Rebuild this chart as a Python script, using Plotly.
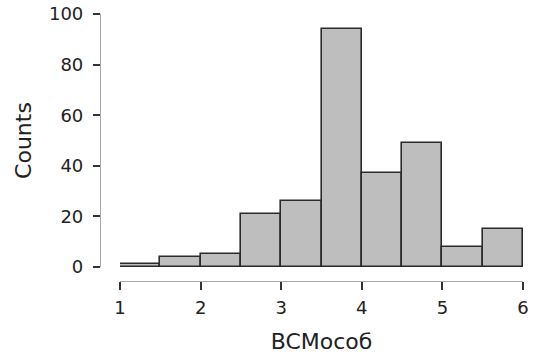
import plotly.graph_objects as go

bin_starts = [1.0, 1.5, 2.0, 2.5, 3.0, 3.5, 4.0, 4.5, 5.0, 5.5]
bin_width = 0.5
counts = [1, 4, 5, 21, 26, 94, 37, 49, 8, 15]
x_ticks = [1, 2, 3, 4, 5, 6]
y_ticks = [0, 20, 40, 60, 80, 100]

centers = [s + bin_width / 2 for s in bin_starts]

fig = go.Figure(go.Bar(
    x=centers, y=counts, width=[bin_width] * len(counts),
    marker=dict(color="#bebebe", line=dict(color="#2b2b2b", width=1.6)),
))

W, H = 539, 356
ml, mr, mt, mb = 100, 16, 14, 75
pw, ph = W - ml - mr, H - mt - mb

font = "DejaVu Sans, Verdana, sans-serif"
fig.update_layout(
    width=W, height=H,
    margin=dict(l=ml, r=mr, t=mt, b=mb, pad=0, autoexpand=False),
    plot_bgcolor="white", paper_bgcolor="white",
    showlegend=False, bargap=0,
    font=dict(family=font, color="#222"),
    xaxis=dict(
        domain=[20 / pw, 1], range=[1, 6], anchor="free", position=0, automargin=False,
        tickvals=x_ticks, ticks="outside", ticklen=8, tickwidth=1.5, tickcolor="#333",
        showline=True, linecolor="#aaaaaa", linewidth=1.2, showgrid=False, zeroline=False,
        tickfont=dict(size=18, family=font, color="#222"), ticklabelstandoff=2,
        title=dict(text="BCMocoб", font=dict(size=22, family=font, color="#222"), standoff=16),
    ),
    yaxis=dict(
        domain=[14 / ph, 1], range=[0, 100], anchor="free", position=0, automargin=False,
        tickvals=y_ticks, ticks="outside", ticklen=7, tickwidth=1.5, tickcolor="#333",
        showline=True, linecolor="#aaaaaa", linewidth=1.2, showgrid=False, zeroline=False,
        tickfont=dict(size=18, family=font, color="#222"), ticklabelstandoff=6,
        title=dict(text="Counts", font=dict(size=22, family=font, color="#222"), standoff=10),
    ),
)

fig.write_html("out.html")
